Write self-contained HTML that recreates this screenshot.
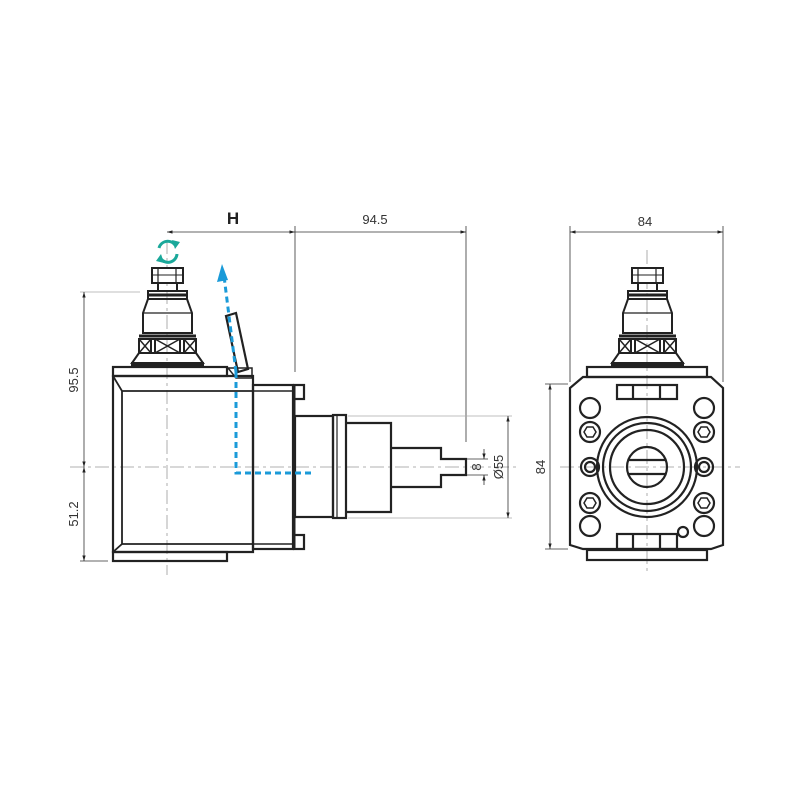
<!DOCTYPE html>
<html><head><meta charset="utf-8"><style>html,body{margin:0;padding:0;background:#fff}svg{display:block}text{font-family:"Liberation Sans",Arial,sans-serif}</style></head>
<body>
<svg width="800" height="800" viewBox="0 0 800 800" xmlns="http://www.w3.org/2000/svg" style="font-family:'Liberation Sans',sans-serif">
<defs>
<marker id="ar" viewBox="0 0 10 10" refX="10" refY="5" markerWidth="7" markerHeight="7" orient="auto-start-reverse"><path d="M0,2 L10,5 L0,8 z" fill="#222"/></marker>
<g id="spindle" fill="none" stroke="#222" stroke-width="2">
  <rect x="-15" y="-199" width="31" height="15" fill="#fff"/>
  <line x1="-9" y1="-199" x2="-9" y2="-184" stroke-width="1.2"/>
  <line x1="9" y1="-199" x2="9" y2="-184" stroke-width="1.2"/>
  <line x1="-15" y1="-192" x2="16" y2="-192" stroke-width="1"/>
  <rect x="-9" y="-184" width="19" height="8"/>
  <rect x="-19" y="-176" width="39" height="8"/>
  <line x1="-19" y1="-172" x2="20" y2="-172" stroke-width="3"/>
  <path d="M-19,-168 L-24,-154 L-24,-134 L25,-134 L25,-154 L20,-168"/>
  <line x1="-24" y1="-154" x2="25" y2="-154" stroke-width="1.2"/>
  <rect x="-28" y="-128" width="57" height="14"/>
  <line x1="-28" y1="-131" x2="29" y2="-131" stroke-width="3"/>
  <line x1="-16" y1="-128" x2="-16" y2="-114"/><line x1="17" y1="-128" x2="17" y2="-114"/>
  <line x1="-12" y1="-128" x2="-12" y2="-114"/><line x1="13" y1="-128" x2="13" y2="-114"/>
  <path d="M-28,-128 L-16,-114 M-28,-114 L-16,-128 M-12,-128 L13,-114 M-12,-114 L13,-128 M17,-128 L29,-114 M17,-114 L29,-128" stroke-width="1.5"/>
  <path d="M-28,-114 L-35,-104 L36,-104 L29,-114"/>
  <rect x="-35" y="-104" width="71" height="3" fill="#222"/>
</g>
</defs>

<g stroke="#999" stroke-width="0.8" stroke-dasharray="14,4,3,4" fill="none">
  <line x1="167" y1="240" x2="167" y2="575"/>
  <line x1="70" y1="467" x2="520" y2="467"/>
  <line x1="647" y1="250" x2="647" y2="575"/>
  <line x1="560" y1="467" x2="740" y2="467"/>
</g>

<g stroke="#333" stroke-width="0.8" fill="none">
  <line x1="167" y1="232" x2="295" y2="232" marker-start="url(#ar)" marker-end="url(#ar)"/>
  <line x1="295" y1="232" x2="466" y2="232" marker-end="url(#ar)"/>
  <line x1="295" y1="226" x2="295" y2="372"/>
  <line x1="466" y1="226" x2="466" y2="442"/>
  <line x1="80" y1="292" x2="140" y2="292" stroke="#aaa"/>
  <line x1="80" y1="561" x2="108" y2="561"/>
  <line x1="84" y1="292" x2="84" y2="467" marker-start="url(#ar)" marker-end="url(#ar)"/>
  <line x1="84" y1="467" x2="84" y2="561" marker-start="url(#ar)" marker-end="url(#ar)"/>
  <line x1="348" y1="416" x2="512" y2="416" stroke="#aaa"/>
  <line x1="348" y1="518" x2="512" y2="518" stroke="#aaa"/>
  <line x1="508" y1="416" x2="508" y2="518" marker-start="url(#ar)" marker-end="url(#ar)"/>
  <line x1="466" y1="459" x2="488" y2="459"/>
  <line x1="466" y1="475" x2="488" y2="475"/>
  <line x1="484" y1="449" x2="484" y2="459" marker-end="url(#ar)"/>
  <line x1="484" y1="485" x2="484" y2="475" marker-end="url(#ar)"/>
  <line x1="570" y1="232" x2="723" y2="232" marker-start="url(#ar)" marker-end="url(#ar)"/>
  <line x1="570" y1="226" x2="570" y2="382"/>
  <line x1="723" y1="226" x2="723" y2="382"/>
  <line x1="550" y1="384" x2="550" y2="549" marker-start="url(#ar)" marker-end="url(#ar)"/>
  <line x1="545" y1="384" x2="568" y2="384"/>
  <line x1="545" y1="549" x2="568" y2="549"/>
</g>

<g fill="#333" font-size="13" font-family="Liberation Sans, sans-serif">
  <text x="233" y="224" text-anchor="middle" font-size="17" font-weight="bold" fill="#222">H</text>
  <text x="375" y="224" text-anchor="middle">94.5</text>
  <text x="645" y="226" text-anchor="middle">84</text>
  <text transform="translate(78,380) rotate(-90)" text-anchor="middle">95.5</text>
  <text transform="translate(78,514) rotate(-90)" text-anchor="middle">51.2</text>
  <text transform="translate(481,467) rotate(-90)" text-anchor="middle">8</text>
  <text transform="translate(503,467) rotate(-90)" text-anchor="middle">Ø55</text>
  <text transform="translate(545,467) rotate(-90)" text-anchor="middle">84</text>
</g>

<use href="#spindle" transform="translate(167,467)"/>
<g fill="none" stroke="#222" stroke-width="2.2">
  <rect x="113" y="367" width="114" height="9"/>
  <path d="M113,376 L253,376 L253,552 L113,552 Z"/>
  <path d="M113,376 L122,391 L253,391 M113,552 L122,544 L253,544 M122,391 L122,544" stroke-width="1.8"/>
  <rect x="113" y="552" width="114" height="9"/>
  <rect x="253" y="385" width="40" height="164"/>
  <line x1="253" y1="391" x2="293" y2="391" stroke-width="1.5"/>
  <line x1="253" y1="544" x2="293" y2="544" stroke-width="1.5"/>
  <line x1="294" y1="385" x2="294" y2="549" stroke-width="3"/>
  <rect x="294" y="385" width="10" height="14"/>
  <rect x="294" y="535" width="10" height="14"/>
  <rect x="295" y="416" width="38" height="101"/>
  <rect x="333" y="415" width="13" height="103"/>
  <line x1="337" y1="415" x2="337" y2="518" stroke-width="1.2"/>
  <path d="M346,423 L391,423 L391,512 L346,512"/>
  <path d="M391,448 L441,448 L441,459 L466,459 L466,475 L441,475 L441,487 L391,487"/>
  <path d="M226,316 L236,313 L248,369 L238,372 Z" fill="#fff"/>
  <path d="M228,368 L236,378 L252,378 L252,368 L236,368 Z" stroke-width="1.5"/>
</g>
<g stroke="#1a9ad8" stroke-width="3" fill="none" stroke-dasharray="6,4">
  <path d="M236,372 L236,473 L314,473"/>
  <path d="M236,372 L224,276"/>
</g>
<path d="M222,264 L217,282 L228,280 Z" fill="#1a9ad8"/>
<g stroke="#1aa89a" stroke-width="3" fill="none">
  <path d="M159,248 A9,9 0 0 1 175,245"/>
  <path d="M177,254 A9,9 0 0 1 161,259"/>
</g>
<path d="M172,240 L180,242 L175,249 Z M164,263 L156,261 L161,254 Z" fill="#1aa89a"/>

<use href="#spindle" transform="translate(647,467)"/>
<g fill="none" stroke="#222" stroke-width="2.2">
  <rect x="587" y="367" width="120" height="10"/>
  <path d="M583,377 L711,377 L723,388 L723,545 L711,549 L583,549 L570,545 L570,388 Z"/>
  <rect x="587" y="550" width="120" height="10"/>
  <rect x="617" y="385" width="60" height="14"/>
  <line x1="633" y1="385" x2="633" y2="399"/><line x1="660" y1="385" x2="660" y2="399"/>
  <rect x="617" y="534" width="60" height="15"/>
  <line x1="633" y1="534" x2="633" y2="549"/><line x1="660" y1="534" x2="660" y2="549"/>
  <circle cx="683" cy="532" r="5"/>
  <circle cx="647" cy="467" r="50"/>
  <circle cx="647" cy="467" r="44"/>
  <circle cx="647" cy="467" r="37"/>
  <circle cx="647" cy="467" r="20"/>
  <line x1="629" y1="460" x2="665" y2="460"/>
  <line x1="629" y1="474" x2="665" y2="474"/>
  <circle cx="590" cy="408" r="10"/><circle cx="704" cy="408" r="10"/>
  <circle cx="590" cy="526" r="10"/><circle cx="704" cy="526" r="10"/>
  <circle cx="590" cy="432" r="10"/><circle cx="704" cy="432" r="10"/>
  <circle cx="590" cy="503" r="10"/><circle cx="704" cy="503" r="10"/>
  <circle cx="590" cy="467" r="9"/><circle cx="704" cy="467" r="9"/>
  <circle cx="590" cy="467" r="5"/><circle cx="704" cy="467" r="5"/>
</g>
<g fill="none" stroke="#222" stroke-width="1.5">
  <polygon points="584,432 587,427 593,427 596,432 593,437 587,437"/>
  <polygon points="698,432 701,427 707,427 710,432 707,437 701,437"/>
  <polygon points="584,503 587,498 593,498 596,503 593,508 587,508"/>
  <polygon points="698,503 701,498 707,498 710,503 707,508 701,508"/>
</g>
</svg>
</body></html>
